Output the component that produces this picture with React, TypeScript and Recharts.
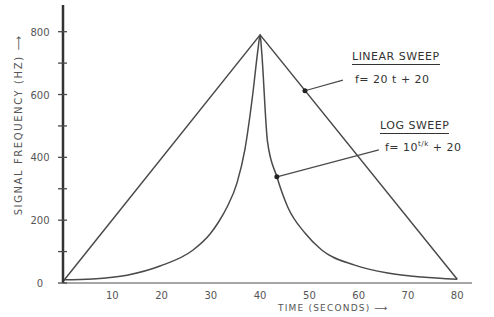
import { LineChart, Line, XAxis, YAxis, ReferenceDot, ReferenceLine } from 'recharts';

// linear sweep, f = 20t + 20 (as drawn)
const linearTime = [0, 40, 80];
const linearFreq = [5, 790, 12];

// log sweep, f = 10^(t/k) + 20
const logTime = [0, 6, 13, 19.7, 26.4, 29.8, 31.6, 33.3, 35.3, 36.9, 38.5, 39.6, 40, 40.3, 41.5, 43.4, 45.6, 49.1, 52.5, 59.2, 65.9, 72.8, 80];
const logFreq = [10, 13, 25, 54, 105, 155, 195, 242, 318, 424, 600, 748, 790, 740, 450, 338, 242, 159, 105, 57, 32, 19, 12];

const timeTicks = [10, 20, 30, 40, 50, 60, 70, 80];
const freqTicks = [0, 100, 200, 300, 400, 500, 600, 700, 800];

const ink = '#4a4a4a';
const font = '"DejaVu Sans", sans-serif';

const linearData = linearTime.map((t, i) => ({ t, f: linearFreq[i] }));
const logData = logTime.map((t, i) => ({ t, f: logFreq[i] }));

const YTick = ({ y, payload }: any) => (
  <g>
    <line x1={58} x2={67} y1={y} y2={y} stroke={ink} strokeWidth={1.3} />
    {payload.value % 200 === 0 && (
      <text x={40} y={y} dy={4} textAnchor="middle" fontSize={10} fill="#555" fontFamily={font}>
        {payload.value}
      </text>
    )}
  </g>
);

const XTick = ({ x, y, payload }: any) => (
  <text x={x} y={y} dy={8} textAnchor="middle" fontSize={10} fill="#555" fontFamily={font}>
    {payload.value}
  </text>
);

const note = (extra: any) => ({
  position: 'absolute' as const,
  fontFamily: font,
  fontSize: 11,
  color: '#333',
  letterSpacing: 0.5,
  whiteSpace: 'nowrap' as const,
  ...extra,
});

export default function App() {
  return (
    <div style={{ position: 'absolute', left: 0, top: 0, width: 494, height: 317, background: '#fff' }}>
      <LineChart width={494} height={317} margin={{ top: 5, right: 22, left: 0, bottom: 0 }}>
        <XAxis
          type="number"
          dataKey="t"
          domain={[0, 83]}
          ticks={timeTicks}
          tick={<XTick />}
          tickLine={false}
          axisLine={{ stroke: '#888', strokeWidth: 1.5 }}
          height={34}
          allowDuplicatedCategory={false}
        />
        <YAxis
          type="number"
          domain={[0, 885]}
          ticks={freqTicks}
          tick={<YTick />}
          tickLine={false}
          axisLine={{ stroke: '#333', strokeWidth: 2.5 }}
          width={63}
        />
        <Line data={linearData} dataKey="f" type="linear" stroke={ink} strokeWidth={1.5} dot={false} isAnimationActive={false} />
        <Line data={logData} dataKey="f" type="monotone" stroke={ink} strokeWidth={1.5} dot={false} isAnimationActive={false} />
        <ReferenceLine segment={[{ x: 49.1, y: 612 }, { x: 56.8, y: 646 }]} stroke={ink} strokeWidth={1.2} />
        <ReferenceLine segment={[{ x: 43.4, y: 338 }, { x: 64.1, y: 424 }]} stroke={ink} strokeWidth={1.2} />
        <ReferenceDot x={49.1} y={612} r={2.5} fill="#222" stroke="none" />
        <ReferenceDot x={43.4} y={338} r={2.5} fill="#222" stroke="none" />
      </LineChart>

      <div style={note({ left: 352, top: 50, borderBottom: '1.5px solid #333', paddingBottom: 1 })}>LINEAR SWEEP</div>
      <div style={note({ left: 355, top: 73 })}>f= 20 t + 20</div>
      <div style={note({ left: 380, top: 119, borderBottom: '1.5px solid #333', paddingBottom: 1 })}>LOG SWEEP</div>
      <div style={note({ left: 385, top: 140 })}>
        f= 10<sup style={{ fontSize: 7 }}>t/k</sup> + 20
      </div>

      <div
        style={note({
          left: 18,
          top: 125,
          fontSize: 10,
          letterSpacing: 1.6,
          transform: 'translate(-50%, -50%) rotate(-90deg)',
          color: '#555',
        })}
      >
        SIGNAL FREQUENCY (HZ) ⟶
      </div>
      <div style={note({ left: 278, top: 303, fontSize: 9, letterSpacing: 1.2, color: '#555' })}>
        TIME (SECONDS) ⟶
      </div>
    </div>
  );
}
